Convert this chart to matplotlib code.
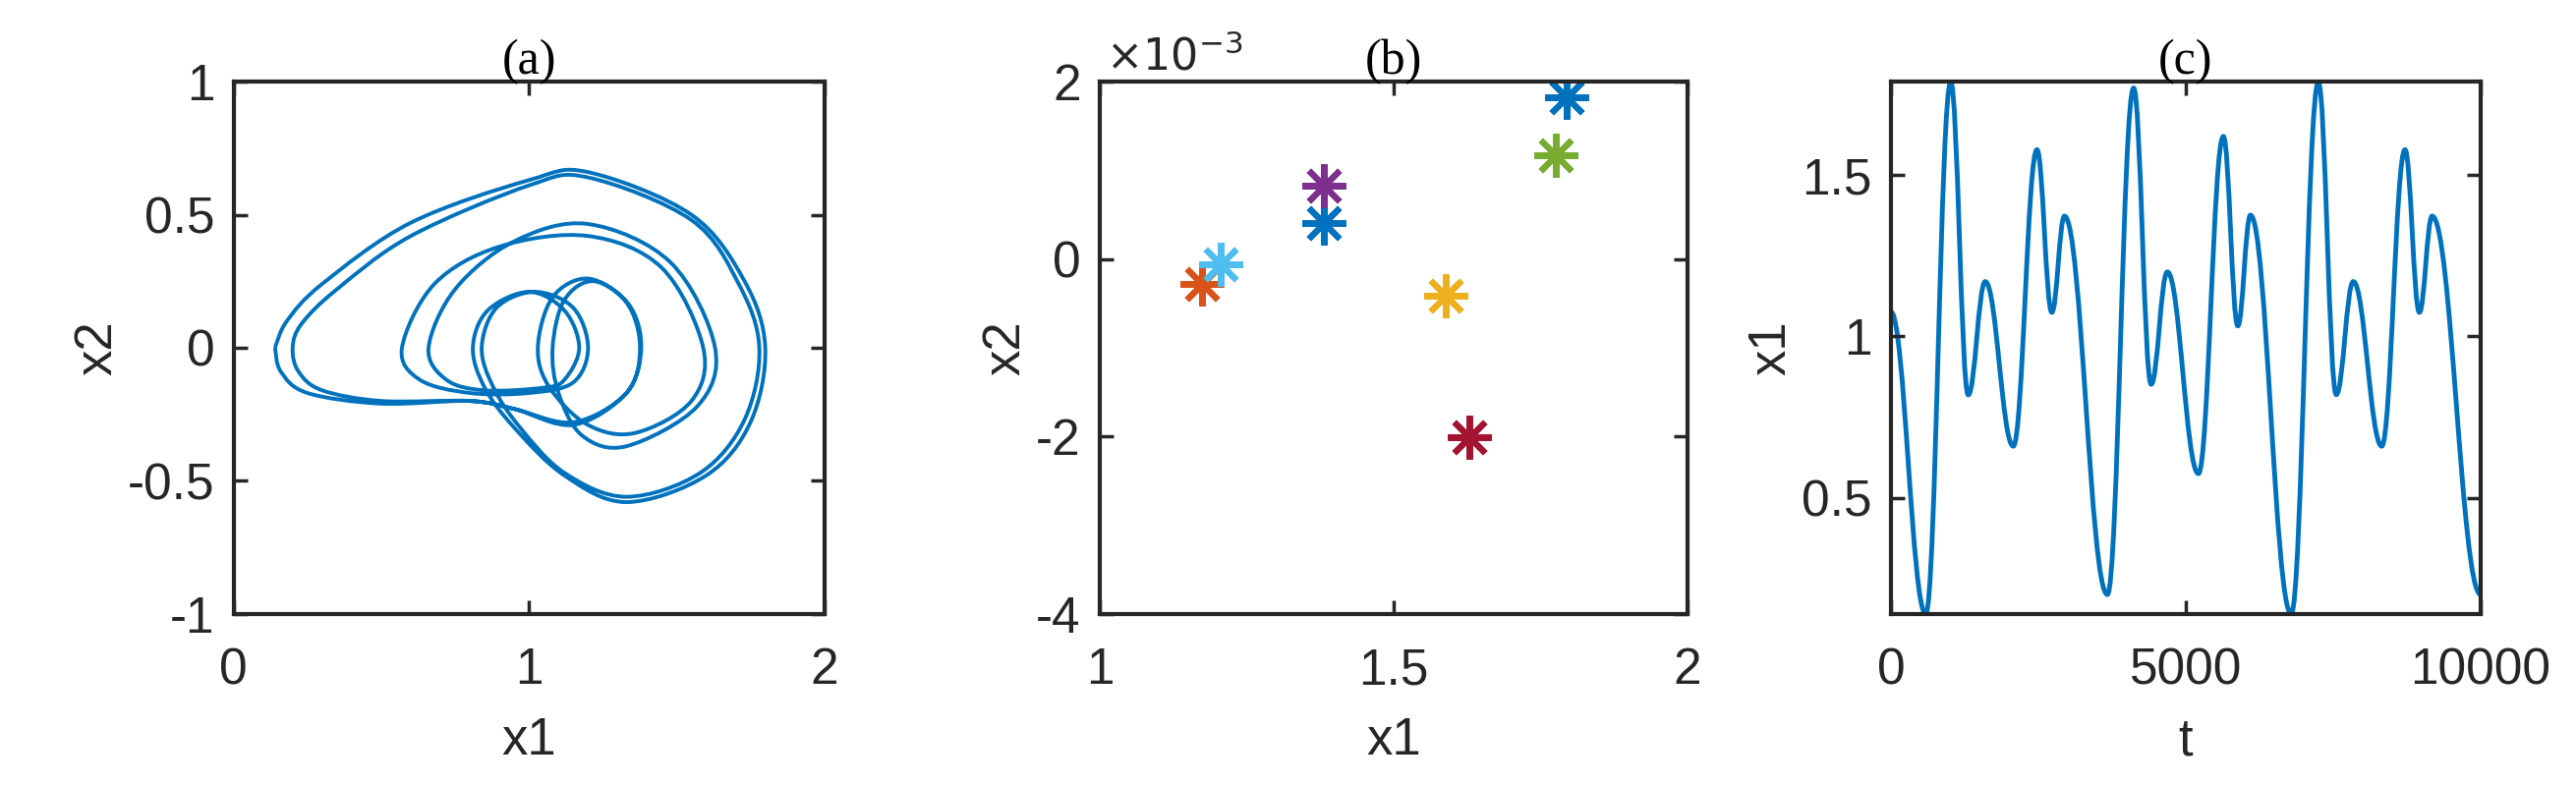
import matplotlib
matplotlib.use("Agg")
import matplotlib.pyplot as plt
import numpy as np
from matplotlib.path import Path
from matplotlib.patches import PathPatch

# ---- data ----
# (a) phase portrait waypoints (x1, x2)
x1_path = [0.14,0.18,0.30,0.60,1.00,1.20,1.55,1.73,1.80,
           1.75,1.60,1.33,1.12,0.95,0.85,0.81,
           0.86,1.00,1.12,1.17,
           1.12,1.05,0.85,0.72,0.66,
           0.75,0.95,1.20,1.48,1.63,
           1.57,1.33,1.18,1.10,1.08,
           1.12,1.22,1.34,1.38,
           1.33,1.15,0.95,0.80,0.50,0.30,0.22,0.20,
           0.23,0.35,0.60,1.00,1.20,1.55,1.71,1.78,
           1.73,1.58,1.33,1.12,0.97,0.88,0.84,
           0.89,1.02,1.15,1.20,
           1.15,1.00,0.80,0.63,0.57,
           0.68,0.90,1.20,1.45,1.59,
           1.55,1.36,1.20,1.07,1.03,
           1.08,1.20,1.33,1.376,
           1.33,1.15,0.95,0.80,0.50,0.25,0.16,0.14]
x2_path = [0.00,0.10,0.24,0.47,0.63,0.66,0.50,0.25,0.00,
           -0.28,-0.48,-0.58,-0.48,-0.30,-0.15,0.00,
           0.14,0.21,0.14,0.00,
           -0.12,-0.15,-0.16,-0.12,0.00,
           0.22,0.40,0.465,0.32,0.00,
           -0.22,-0.37,-0.33,-0.17,0.00,
           0.18,0.25,0.16,0.00,
           -0.17,-0.29,-0.23,-0.20,-0.20,-0.16,-0.09,0.00,
           0.09,0.22,0.42,0.61,0.64,0.48,0.24,0.00,
           -0.27,-0.47,-0.56,-0.47,-0.30,-0.15,0.00,
           0.15,0.21,0.15,0.00,
           -0.13,-0.17,-0.17,-0.12,0.00,
           0.24,0.38,0.42,0.30,0.00,
           -0.20,-0.32,-0.29,-0.15,0.00,
           0.19,0.26,0.17,0.00,
           -0.17,-0.28,-0.23,-0.20,-0.21,-0.17,-0.09,0.00]

# (b) points
b_x1 = [1.381, 1.174, 1.588, 1.381, 1.776, 1.205, 1.629, 1.795]
b_x2 = [0.41, -0.28, -0.41, 0.83, 1.17, -0.06, -2.01, 1.82]  # x 1e-3
b_colors = ['#0072BD','#D95319','#EDB120','#7E2F8E','#77AC30','#4DBEEE','#A2142F','#0072BD']

# (c) time series extrema
t_ext = [0,593,1016,1313,1602,2077,2478,2730,2945,3672,4117,4414,4688,5215,5638,
         5883,6098,6788,7248,7552,7841,8323,8717,8961,9177,10000]
x1_ext = [1.077,0.14,1.788,0.819,1.17,0.66,1.579,1.075,1.373,0.20,1.770,0.852,1.20,
          0.575,1.62,1.033,1.376,0.14,1.788,0.82,1.17,0.66,1.579,1.075,1.373,0.20]

blue = '#0072BD'
plt.rcParams['font.family'] = ['Liberation Sans', 'DejaVu Sans']

fig = plt.figure(figsize=(26.21, 7.99), dpi=100)
bottom, top = 0.218, 0.896
height = top - bottom
axa = fig.add_axes([0.0907, bottom, 0.320 - 0.0907, height])
axb = fig.add_axes([0.427, bottom, 0.655 - 0.427, height])
axc = fig.add_axes([0.734, bottom, 0.963 - 0.734, height])

def catmull_path(xs, ys):
    P = np.column_stack([xs, ys])
    n = len(P)
    verts = [P[0]]
    codes = [Path.MOVETO]
    for i in range(n - 1):
        p0 = P[max(i - 1, 0)]
        p1 = P[i]
        p2 = P[i + 1]
        p3 = P[min(i + 2, n - 1)]
        c1 = p1 + (p2 - p0) / 6.0
        c2 = p2 - (p3 - p1) / 6.0
        verts += [c1, c2, p2]
        codes += [Path.CURVE4] * 3
    return Path(verts, codes)

def extrema_path(xs, ys):
    verts = [(xs[0], ys[0])]
    codes = [Path.MOVETO]
    for i in range(len(xs) - 1):
        dt = xs[i + 1] - xs[i]
        verts += [(xs[i] + dt * 0.4, ys[i]), (xs[i + 1] - dt * 0.4, ys[i + 1]), (xs[i + 1], ys[i + 1])]
        codes += [Path.CURVE4] * 3
    return Path(verts, codes)

axa.add_patch(PathPatch(catmull_path(x1_path, x2_path), fill=False, ec=blue, lw=2.8))
axa.set_xlim(0, 2); axa.set_ylim(-1, 1)
axa.set_xticks([0, 1, 2]); axa.set_yticks([-1, -0.5, 0, 0.5, 1])
axa.set_yticklabels(['-1', '-0.5', '0', '0.5', '1'])
axa.set_xlabel('x1'); axa.set_ylabel('x2')
axa.set_title('(a)', family='Liberation Serif')

for x, y, c in zip(b_x1, b_x2, b_colors):
    axb.plot([x], [y], marker=(8, 2, 0), ms=32, mew=4.5, color=c, ls='none')
axb.set_xlim(1, 2); axb.set_ylim(-4, 2)
axb.set_xticks([1, 1.5, 2]); axb.set_yticks([-4, -2, 0, 2])
axb.set_yticklabels(['-4', '-2', '0', '2'])
axb.set_xticklabels(['1', '1.5', '2'])
axb.set_xlabel('x1'); axb.set_ylabel('x2')
axb.set_title('(b)', family='Liberation Serif')
axb.text(0.01, 1.005, r'$\times10^{-3}$', transform=axb.transAxes, fontsize=32, color='#262626',
         ha='left', va='bottom')

axc.add_patch(PathPatch(extrema_path(t_ext, x1_ext), fill=False, ec=blue, lw=3.5))
axc.set_xlim(0, 10000); axc.set_ylim(0.14, 1.79)
axc.set_xticks([0, 5000, 10000]); axc.set_yticks([0.5, 1, 1.5])
axc.set_yticklabels(['0.5', '1', '1.5'])
axc.set_xticklabels(['0', '5000', '10000'])
axc.set_xlabel('t'); axc.set_ylabel('x1')
axc.set_title('(c)', family='Liberation Serif')

for ax in (axa, axb, axc):
    for s in ax.spines.values():
        s.set_linewidth(3); s.set_color('#262626')
    ax.tick_params(direction='in', length=10, width=2.5, labelsize=37, colors='#262626',
                   top=True, right=True, pad=14)
    ax.tick_params(axis='x', pad=24)
    ax.xaxis.labelpad = 16
    ax.xaxis.label.set_size(38); ax.yaxis.label.set_size(38)
    ax.xaxis.label.set_color('#262626'); ax.yaxis.label.set_color('#262626')
    ax.title.set_size(36)
    ax.title.set_position((0.5, 0.985))

fig.savefig('out.png', dpi=100)
